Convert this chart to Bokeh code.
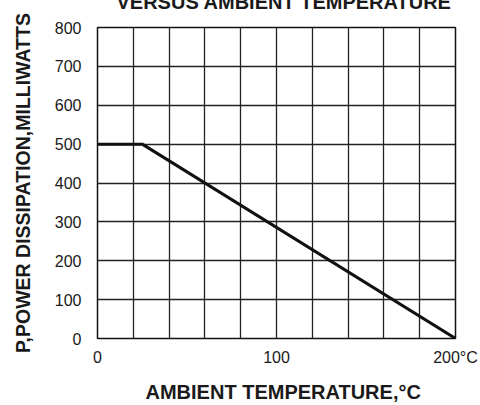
from bokeh.plotting import figure
from bokeh.models import FixedTicker, Title, Range1d
from bokeh.embed import file_html
from bokeh.resources import INLINE

# ---- data ----
temp_c = [0, 25, 200]
power_mw = [500, 500, 0]
x_grid_ticks = [0, 20, 40, 60, 80, 100, 120, 140, 160, 180, 200]
x_label_ticks = [0, 100, 200]
x_label_text = {200: "200°C"}
y_ticks = [0, 100, 200, 300, 400, 500, 600, 700, 800]
title_text = "VERSUS AMBIENT TEMPERATURE"
x_title = "AMBIENT TEMPERATURE,°C"
y_title = "P,POWER DISSIPATION,MILLIWATTS"

FONT = "Liberation Sans"
INK = "#1a1a1a"

p = figure(frame_width=358, frame_height=311,
           x_range=Range1d(0, 200), y_range=Range1d(0, 800),
           output_backend="svg", toolbar_location=None,
           min_border_left=97, min_border_right=25,
           min_border_top=27, min_border_bottom=67)
p.background_fill_color = "white"
p.border_fill_color = "white"
p.outline_line_color = "#111111"
p.outline_line_width = 1.5
p.outline_line_alpha = 1.0

p.line(temp_c, power_mw, line_width=3, line_color="#111111")

p.xgrid.ticker = FixedTicker(ticks=x_grid_ticks)
p.ygrid.ticker = FixedTicker(ticks=y_ticks)
for g in (p.xgrid, p.ygrid):
    g.grid_line_color = "#222222"
    g.grid_line_width = 1.3
    g.grid_line_alpha = 1.0

p.xaxis.ticker = FixedTicker(ticks=x_label_ticks)
p.xaxis.major_label_overrides = x_label_text
p.yaxis.ticker = FixedTicker(ticks=y_ticks)
for ax in (p.xaxis, p.yaxis):
    ax.axis_line_color = None
    ax.major_tick_line_color = None
    ax.minor_tick_line_color = None
    ax.major_label_text_font = FONT
    ax.major_label_text_font_size = "16px"
    ax.major_label_text_color = INK
p.yaxis.major_label_standoff = 10
p.xaxis.major_label_standoff = 4

p.yaxis.axis_label = y_title
p.yaxis.axis_label_text_font = FONT
p.yaxis.axis_label_text_font_size = "19.5px"
p.yaxis.axis_label_text_font_style = "bold"
p.yaxis.axis_label_text_color = INK
p.yaxis.axis_label_standoff = 18

p.add_layout(Title(text=title_text, align="left", offset=19, vertical_align="top",
                   standoff=-74, text_font=FONT, text_font_size="20px",
                   text_font_style="bold", text_color=INK), "above")
p.add_layout(Title(text=x_title, align="left", offset=48, standoff=20,
                   text_font=FONT, text_font_size="20px",
                   text_font_style="bold", text_color=INK), "below")

open("out.html", "w").write(file_html(p, INLINE))
